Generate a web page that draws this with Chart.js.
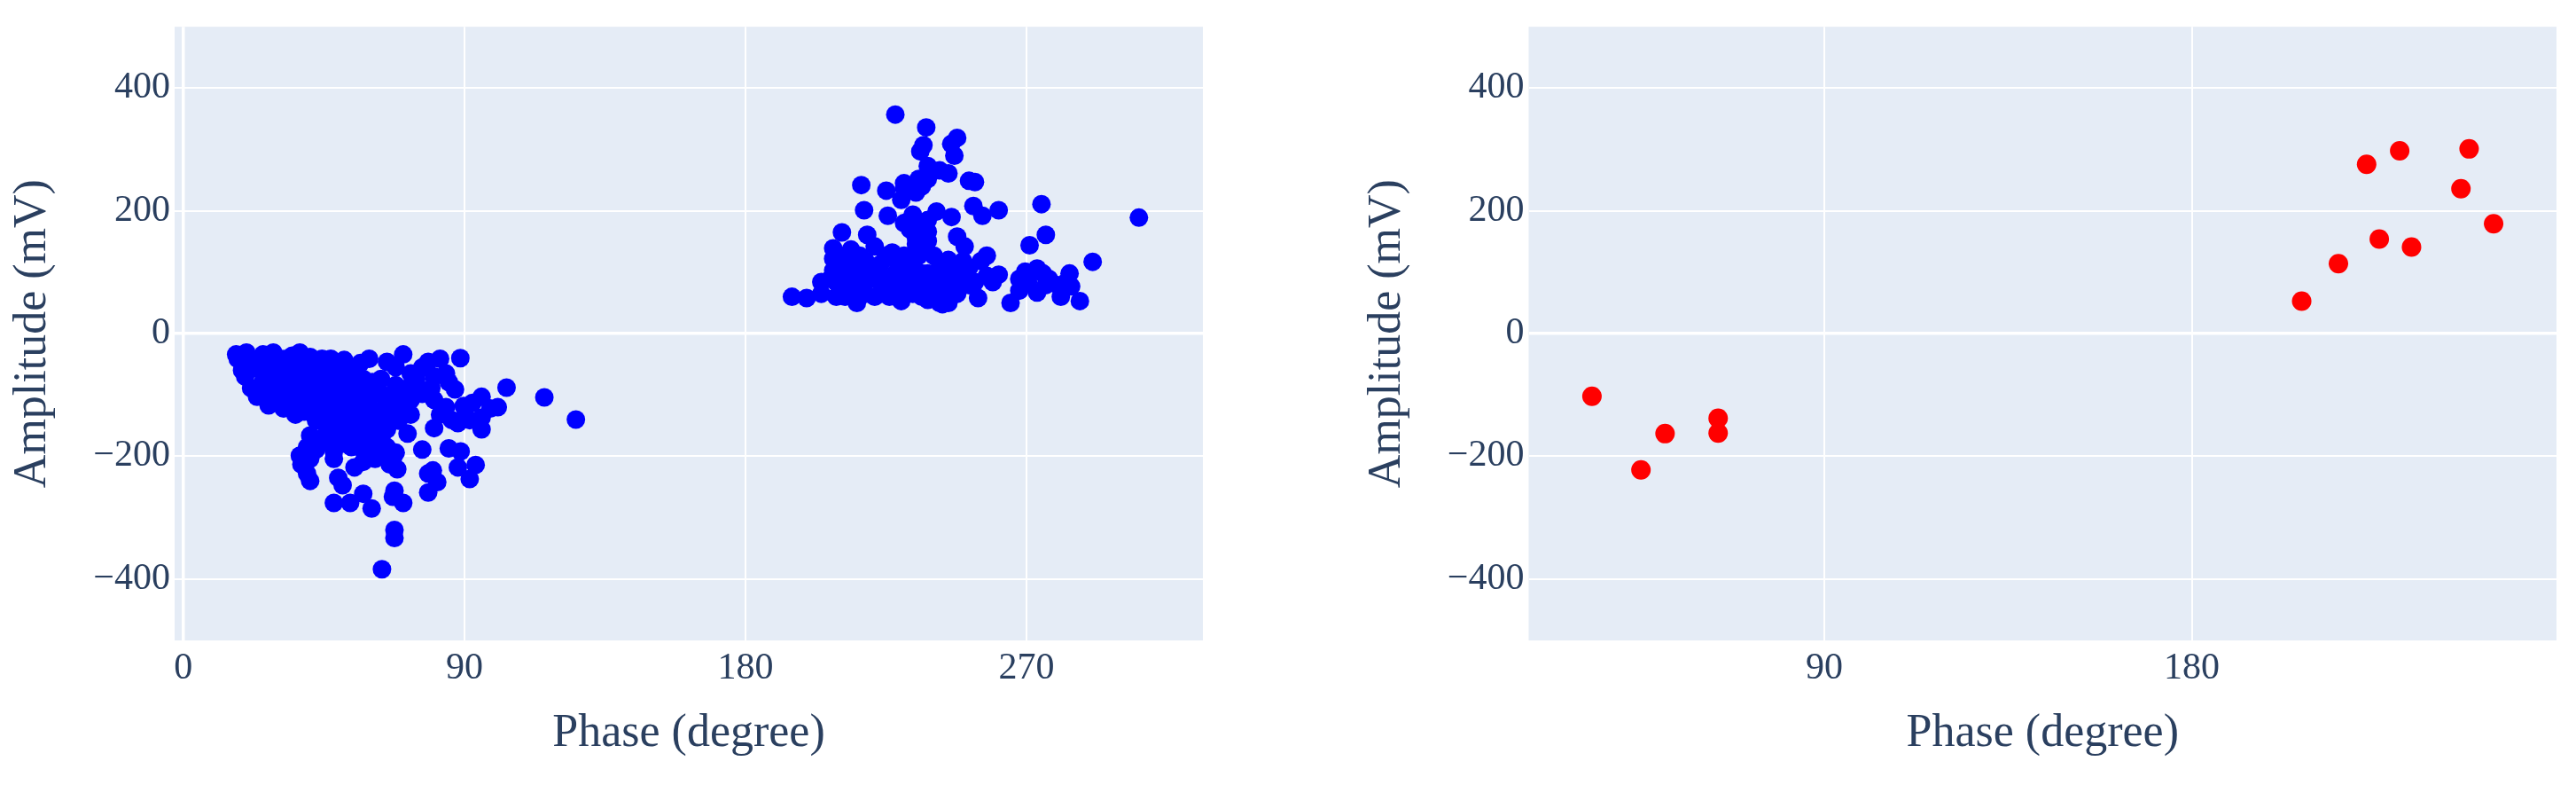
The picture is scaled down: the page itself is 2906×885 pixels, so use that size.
<!DOCTYPE html>
<html>
<head>
<meta charset="utf-8">
<title>Phase vs Amplitude</title>
<script src="https://cdn.jsdelivr.net/npm/chart.js@4.4.1/dist/chart.umd.min.js"></script>
<style>
    html, body { margin: 0; padding: 0; background: #ffffff; }
    #wrap { position: relative; width: 2906px; height: 885px; overflow: hidden; }
    canvas { position: absolute; top: 0; }
</style>
</head>
<body>
<div id="wrap">
    <canvas id="leftChart" width="1400" height="885" style="left:0px"></canvas>
    <canvas id="rightChart" width="1456" height="885" style="left:1450px"></canvas>
</div>
<script>
// left panel, negative cluster
var leftNegPhase = [
    125.7, 115.6, 103.5, 88.7, 63.6, 67.6, 67.6, 60.3, 48.2, 53.4,
    57.6, 70.4, 67.6, 78.4, 81.3, 79.9, 78.4, 91.7, 93.6, 87.9,
    88.8, 85.0, 76.5, 68.5, 67.1, 65.2, 54.8, 49.6, 40.6, 37.8,
    37.3, 39.6, 48.2, 71.8, 80.3, 95.5, 91.7, 95.5, 100.7, 92.6,
    95.5, 98.3, 86.0, 84.1, 87.0, 84.1, 82.2, 78.4, 76.5, 79.4,
    74.6, 71.8, 69.0, 67.1, 63.3, 70.4, 65.2, 68.0, 60.5, 56.7,
    51.5, 45.3, 51.9, 59.5, 55.7, 50.1, 46.3, 42.5, 40.6, 47.2,
    59.5, 61.4, 57.6, 53.8, 48.2, 44.4, 35.9, 32.1, 27.3, 23.6,
    21.7, 19.8, 17.4, 16.9, 20.2, 25.5, 28.8, 33.0, 37.3, 40.6,
    44.4, 23.6, 27.3, 31.1, 34.9, 38.7, 42.5, 46.3, 25.5, 29.2,
    33.0, 36.8, 40.6, 44.4, 48.2, 30.2, 34.0, 38.7, 42.5, 46.3,
    40.6, 50.1, 53.8, 57.6, 65.2, 68.0, 63.3, 65.2, 51.0, 44.4,
    42.5, 40.6, 53.8, 57.6, 66.1, 63.3, 59.5, 51.0, 72.8, 31.1,
    20.7, 50.1, 55.7, 58.6, 53.8, 72.8, 80.3, 85.0, 87.9, 89.8,
    18.8, 21.7, 34.9, 39.6, 47.2, 25.5, 34.9, 39.6, 43.4, 46.3,
    51.0, 36.8, 32.1, 28.3, 34.9, 38.7, 43.4, 46.3, 53.8, 57.6,
    53.8, 48.2, 42.5, 51.9, 55.7, 61.4, 63.3, 68.9, 64.2, 56.7,
    51.9, 59.5, 63.3, 68.0, 71.8, 76.5, 80.3, 82.2, 89.8, 72.8,
    48.2, 39.6, 51.0, 67.1, 61.4, 68.0, 30.2, 23.6, 33.0, 29.2,
    41.5, 48.2, 53.8, 57.6, 59.5
];
var leftNegAmplitude = [
    -140, -104, -88, -40, -384, -320, -333, -285, -276, -276,
    -261, -276, -256, -259, -242, -223, -228, -237, -214, -218,
    -192, -187, -189, -221, -204, -185, -218, -235, -240, -213,
    -199, -185, -192, -163, -154, -156, -141, -137, -120, -113,
    -103, -122, -141, -120, -91, -65, -41, -46, -55, -89,
    -74, -113, -98, -127, -137, -34, -46, -55, -79, -48,
    -43, -46, -72, -118, -151, -137, -156, -142, -166, -180,
    -175, -161, -190, -103, -103, -117, -132, -122, -117, -103,
    -89, -70, -41, -34, -31, -34, -31, -41, -31, -38,
    -41, -50, -55, -65, -55, -60, -65, -60, -79, -84,
    -84, -79, -89, -89, -84, -103, -103, -108, -103, -122,
    -122, -117, -127, -132, -103, -118, -98, -156, -170, -170,
    -189, -204, -185, -209, -213, -194, -146, -156, -108, -41,
    -46, -55, -89, -103, -70, -65, -70, -79, -146, -118,
    -60, -55, -36, -50, -41, -65, -74, -74, -79, -98,
    -98, -94, -94, -98, -117, -127, -137, -137, -142, -161,
    -166, -166, -175, -180, -175, -185, -170, -142, -122, -117,
    -113, -94, -74, -84, -89, -98, -108, -132, -137, -132,
    -204, -228, -247, -266, -204, -194, -74, -89, -55, -41,
    -46, -65, -55, -74, -41
];

// left panel, positive cluster
var leftPosPhase = [
    228.0, 237.9, 247.8, 245.9, 237.0, 236.0, 246.9, 238.4, 245.0, 251.6,
    253.5, 217.1, 225.1, 230.8, 236.5, 229.9, 234.6, 218.0, 225.6, 231.8,
    241.2, 246.0, 253.0, 255.9, 261.1, 274.8, 306.0, 276.2, 271.0, 291.2,
    247.8, 250.2, 236.5, 234.6, 210.9, 219.0, 208.1, 208.1, 213.8, 221.4,
    227.0, 236.5, 257.3, 245.0, 261.1, 259.2, 269.6, 273.4, 277.2, 283.8,
    284.3, 287.1, 273.4, 267.7, 264.9, 254.5, 251.6, 243.1, 245.0, 240.3,
    236.5, 229.9, 226.1, 215.7, 209.1, 199.6, 194.9, 204.3, 216.6, 221.4,
    225.1, 230.8, 234.6, 238.4, 242.2, 246.9, 251.6, 255.4, 210.0, 214.7,
    218.5, 223.2, 228.9, 233.6, 240.3, 219.5, 212.8, 208.1, 228.0, 232.7,
    280.0, 275.3, 281.0, 270.5, 247.8, 223.2, 218.5, 212.8, 234.6, 230.8,
    238.4, 242.2, 257.3, 207.2,
    211.9, 216.6, 225.1, 230.8, 235.5, 213.8, 222.3, 226.1, 229.9, 233.6,
    238.4, 244.1, 248.8, 249.7, 253.5, 209.1, 211.9, 221.4, 228.9, 238.4,
    242.2, 204.3, 234.6, 238.4, 232.7, 238.4, 233.6, 230.8, 238.4, 242.2,
    235.5, 218.5, 223.2, 236.5, 243.1, 246.9, 267.7, 276.2, 282.8
];
var leftPosAmplitude = [
    357, 336, 319, 309, 307, 297, 290, 273, 261, 249,
    247, 242, 233, 245, 240, 218, 230, 201, 192, 182,
    199, 190, 208, 192, 201, 211, 189, 161, 144, 117,
    158, 142, 173, 156, 165, 161, 139, 122, 137, 142,
    132, 137, 127, 120, 96, 84, 101, 106, 89, 98,
    77, 53, 67, 70, 50, 58, 79, 48, 50, 65,
    60, 53, 60, 50, 60, 58, 60, 84, 79, 89,
    74, 89, 79, 98, 84, 89, 108, 118, 108, 108,
    118, 113, 113, 118, 127, 94, 89, 103, 98, 98,
    79, 98, 60, 84, 65, 65, 65, 70, 170, 180,
    166, 108, 94, 89,
    127, 127, 127, 127, 127, 98, 103, 89, 74, 65,
    79, 103, 98, 118, 84, 84, 60, 60, 65, 55,
    50, 65, 146, 151, 170, 185, 194, 237, 252, 266,
    252, 98, 94, 98, 74, 108, 89, 79, 84
];

// right panel
var rightPhase = [33.1, 45.1, 51.0, 64.0, 64.0, 206.9, 215.9, 225.9, 233.8, 222.8, 230.9, 247.9, 245.9, 253.9];
var rightAmplitude = [-102, -222, -163, -138, -162, 53, 114, 154, 141, 276, 298, 301, 236, 179];

var yTicks = [-400, -200, 0, 200, 400];
var leftXTicks = [0, 90, 180, 270];
var rightXTicks = [90, 180];

var textColor = '#2a3f5f';
var serif = "'Liberation Serif', 'Times New Roman', serif";

var plotBackground = {
    id: 'plotBackground',
    beforeDraw: function (chart) {
        var a = chart.chartArea;
        var c = chart.ctx;
        c.save();
        c.fillStyle = '#e5ecf6';
        c.fillRect(a.left, a.top, a.right - a.left, a.bottom - a.top);
        c.restore();
    }
};

function toPoints(xs, ys) {
    return xs.map(function (x, i) { return { x: x, y: ys[i] }; });
}

function minusLabel(v) {
    return v < 0 ? '\u2212' + Math.abs(v) : String(v);
}

function gridWidth(ctx) {
    return ctx.tick && ctx.tick.value === 0 ? 3.5 : 2;
}

function makeChart(id, datasets, xRange, xTicks, yWidth, yTitlePad, rightPad) {
    var ctx = document.getElementById(id).getContext('2d');
    return new Chart(ctx, {
        type: 'scatter',
        data: { datasets: datasets },
        plugins: [plotBackground],
        options: {
            responsive: false,
            animation: false,
            layout: { padding: { left: 0, top: 27, right: rightPad, bottom: 0 } },
            plugins: {
                legend: { display: false },
                tooltip: { enabled: false }
            },
            scales: {
                x: {
                    type: 'linear',
                    min: xRange[0],
                    max: xRange[1],
                    afterBuildTicks: function (axis) {
                        axis.ticks = xTicks.map(function (v) { return { value: v }; });
                    },
                    afterFit: function (axis) { axis.height = 163; },
                    border: { display: false },
                    grid: { color: '#ffffff', lineWidth: gridWidth, drawTicks: false },
                    ticks: {
                        color: textColor,
                        padding: 7,
                        maxRotation: 0,
                        font: { family: serif, size: 42 },
                        callback: minusLabel
                    },
                    title: {
                        display: true,
                        text: 'Phase (degree)',
                        color: textColor,
                        font: { family: serif, size: 52 },
                        padding: { top: 0, bottom: 26 }
                    }
                },
                y: {
                    type: 'linear',
                    min: -500,
                    max: 500,
                    afterBuildTicks: function (axis) {
                        axis.ticks = yTicks.map(function (v) { return { value: v }; });
                    },
                    afterFit: function (axis) { axis.width = yWidth; },
                    border: { display: false },
                    grid: { color: '#ffffff', lineWidth: gridWidth, drawTicks: false },
                    ticks: {
                        color: textColor,
                        padding: 5,
                        font: { family: serif, size: 42 },
                        callback: minusLabel
                    },
                    title: {
                        display: true,
                        text: 'Amplitude (mV)',
                        color: textColor,
                        font: { family: serif, size: 52 },
                        padding: { top: yTitlePad, bottom: 0 }
                    }
                }
            }
        }
    });
}

document.addEventListener('DOMContentLoaded', function () {
    makeChart('leftChart', [{
        label: 'Left negative',
        data: toPoints(leftNegPhase, leftNegAmplitude),
        backgroundColor: '#0000ff',
        borderWidth: 0,
        pointRadius: 10.5
    }, {
        label: 'Left positive',
        data: toPoints(leftPosPhase, leftPosAmplitude),
        backgroundColor: '#0000ff',
        borderWidth: 0,
        pointRadius: 10.5
    }], [-2.8, 326.5], leftXTicks, 197, 6, 43);

    makeChart('rightChart', [{
        label: 'Right',
        data: toPoints(rightPhase, rightAmplitude),
        backgroundColor: '#ff0000',
        borderWidth: 0,
        pointRadius: 11
    }], [17.6, 269.3], rightXTicks, 274.5, 84, 22);
});
</script>
</body>
</html>
